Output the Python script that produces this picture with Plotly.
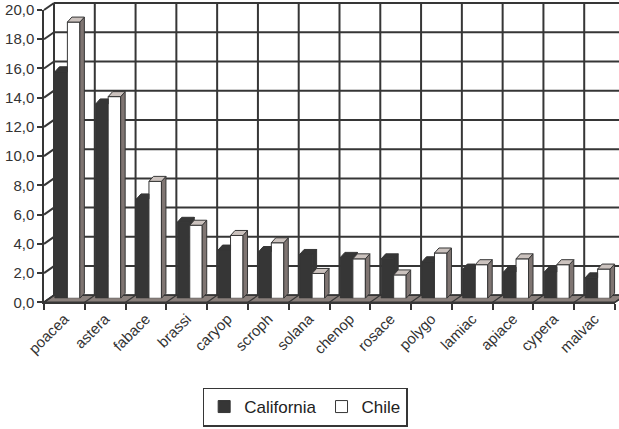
import plotly.graph_objects as go

# ---- data -------------------------------------------------------------
families = ["poacea", "astera", "fabace", "brassi", "caryop", "scroph", "solana",
            "chenop", "rosace", "polygo", "lamiac", "apiace", "cypera", "malvac"]
california = [15.5, 13.3, 6.8, 5.2, 3.3, 3.2, 3.0, 2.8, 2.7, 2.5, 2.0, 1.8, 1.8, 1.4]
chile = [18.9, 13.8, 8.0, 5.0, 4.3, 3.8, 1.7, 2.7, 1.6, 3.1, 2.3, 2.7, 2.3, 2.0]
y_ticks = [0, 2, 4, 6, 8, 10, 12, 14, 16, 18, 20]
y_ticktext = [f"{v:.1f}".replace(".", ",") for v in y_ticks]

# ---- geometry of the pseudo-3D frame (pixels) -------------------------
W, H = 619, 429
FX0, FX1 = 44, 615          # front plane, left/right
FY0, FY20 = 302.3, 10       # front plane, y of 0 and 20
WALL_DX, WALL_DY = 10, 7    # offset of the back wall
BAR_DX, BAR_DY = 3, 4       # offset of the bar front faces
N = len(families)
CAT_W = (FX1 - FX0) / N
UNIT = (FY0 - FY20) / 20.0

BW = 0.306                  # bar width (category units)
DEP_X = 4.5 / CAT_W         # bar depth in category units
DEP_Y = 5.0 / UNIT          # bar depth in value units

DARK = "#363636"
SIDE = "#7f7572"
TOP = "#cbc2be"
FLOOR = "#8a807c"
FONT = "Arial, Liberation Sans, sans-serif"


def xp(px):
    return px / W


def yp(py):
    return 1 - py / H


def front_y(v):
    return FY0 - v * UNIT


def front_x(b):
    # pixel x of category boundary b (0..N) on the front plane
    return FX0 + b * CAT_W


fig = go.Figure()

# empty trace so the front-plane axes get drawn
fig.add_trace(go.Scatter(x=[None], y=[None], mode="lines", showlegend=False,
                         hoverinfo="skip", xaxis="x", yaxis="y"))

# front bar faces
xs = list(range(N))
fig.add_trace(go.Bar(x=xs, y=california, width=BW, offset=-BW, name="California",
                     marker=dict(color=DARK, line=dict(color=DARK, width=1)),
                     xaxis="x4", yaxis="y4"))
fig.add_trace(go.Bar(x=xs, y=chile, width=BW, offset=0, name="Chile",
                     marker=dict(color="white", line=dict(color=DARK, width=1)),
                     xaxis="x4", yaxis="y4"))


def poly_trace(px, py, fill):
    return go.Scatter(x=px, y=py, mode="lines", fill="toself", fillcolor=fill,
                      line=dict(color=DARK, width=1), hoverinfo="skip",
                      showlegend=False, xaxis="x4", yaxis="y4")


# California top faces and the visible part of their side faces
cx, cy = [], []
for i, (c, h) in enumerate(zip(california, chile)):
    l = i - BW
    if c < h:
        cx += [l, l + DEP_X, i, i, l, None]
        cy += [c, c + DEP_Y, c + DEP_Y, c, c, None]
    else:
        cx += [l, l + DEP_X, i + DEP_X, i, l, None]
        cy += [c, c + DEP_Y, c + DEP_Y, c, c, None]
        cx += [i, i + DEP_X, i + DEP_X, i, i, None]
        cy += [h, h + DEP_Y, c + DEP_Y, c, h, None]
fig.add_trace(poly_trace(cx, cy, DARK))

# Chile side faces and top faces
sx, sy, tx, ty = [], [], [], []
for i, h in enumerate(chile):
    r = i + BW
    sx += [r, r + DEP_X, r + DEP_X, r, r, None]
    sy += [0, DEP_Y, h + DEP_Y, h, 0, None]
    tx += [i, i + DEP_X, r + DEP_X, r, i, None]
    ty += [h, h + DEP_Y, h + DEP_Y, h, h, None]
fig.add_trace(poly_trace(sx, sy, SIDE))
fig.add_trace(poly_trace(tx, ty, TOP))

# ---- back wall, side wall and floor ------------------------------------
shapes = []
grid = dict(color=DARK, width=2)
wall_top = front_y(20) - WALL_DY
wall_bot = front_y(0) - WALL_DY
for v in y_ticks:
    # back wall horizontal grid line
    shapes.append(dict(type="line", xref="paper", yref="paper", layer="below",
                       x0=xp(FX0 + WALL_DX), x1=1.0,
                       y0=yp(front_y(v) - WALL_DY), y1=yp(front_y(v) - WALL_DY), line=grid))
    # side wall diagonal
    shapes.append(dict(type="line", xref="paper", yref="paper", layer="below",
                       x0=xp(FX0), y0=yp(front_y(v)),
                       x1=xp(FX0 + WALL_DX), y1=yp(front_y(v) - WALL_DY), line=grid))
for b in range(N + 1):
    xb = front_x(b) + WALL_DX
    if xb <= W:
        shapes.append(dict(type="line", xref="paper", yref="paper", layer="below",
                           x0=xp(xb), x1=xp(xb), y0=yp(wall_top), y1=yp(wall_bot), line=grid))

shapes.append(dict(type="path", xref="paper", yref="paper", layer="below",
                   path=(f"M{xp(FX0)},{yp(FY0)} L{xp(FX1)},{yp(FY0)} "
                         f"L{xp(FX1 + WALL_DX)},{yp(wall_bot)} L{xp(FX0 + WALL_DX)},{yp(wall_bot)} Z"),
                   fillcolor=FLOOR, line=dict(color=DARK, width=1.5)))
for b in range(N + 1):
    x0 = front_x(b)
    shapes.append(dict(type="line", xref="paper", yref="paper", layer="below",
                       x0=xp(x0), y0=yp(FY0), x1=xp(x0 + WALL_DX), y1=yp(wall_bot),
                       line=dict(color=DARK, width=1.2)))

tick_font = dict(family=FONT, size=15, color="#333333")

fig.update_layout(
    width=W, height=H,
    margin=dict(l=0, r=0, t=0, b=0, autoexpand=False),
    paper_bgcolor="white",
    plot_bgcolor="rgba(0,0,0,0)",
    barmode="overlay",
    shapes=shapes,
    showlegend=True,
    legend=dict(orientation="h", x=0.493, y=yp(407), xanchor="center", yanchor="middle",
                bordercolor=DARK, borderwidth=1.5, font=dict(family=FONT, size=17, color="#222222"),
                itemwidth=30, traceorder="normal"),
    # front plane: value axis and category labels
    xaxis=dict(domain=[xp(FX0), xp(FX1)], range=[-0.5, N - 0.5], anchor="y",
               automargin=False,
               tickmode="array", tickvals=xs, ticktext=families, tickangle=-45,
               ticks="", tickfont=tick_font, showgrid=False, zeroline=False,
               showline=True, linecolor=DARK, linewidth=2,
               minor=dict(tickmode="array", tickvals=[k - 0.5 for k in range(N + 1)],
                          ticks="outside", ticklen=6, tickcolor=DARK, tickwidth=1.5,
                          showgrid=False)),
    yaxis=dict(domain=[yp(FY0), yp(FY20)], range=[0, 20], anchor="x",
               automargin=False,
               tickmode="array", tickvals=y_ticks, ticktext=y_ticktext,
               ticks="outside", ticklen=5, tickcolor=DARK, tickwidth=1.5,
               tickfont=tick_font, showgrid=False, zeroline=False,
               showline=True, linecolor=DARK, linewidth=1.5),
    # bars sit a little behind the front plane
    xaxis4=dict(domain=[xp(FX0 + BAR_DX), xp(FX1 + BAR_DX)], range=[-0.5, N - 0.5],
                anchor="y4", visible=False, automargin=False),
    yaxis4=dict(domain=[yp(FY0 - BAR_DY), yp(FY20 - BAR_DY)], range=[0, 20],
                anchor="x4", visible=False, automargin=False),
)

fig.write_html("out.html")
